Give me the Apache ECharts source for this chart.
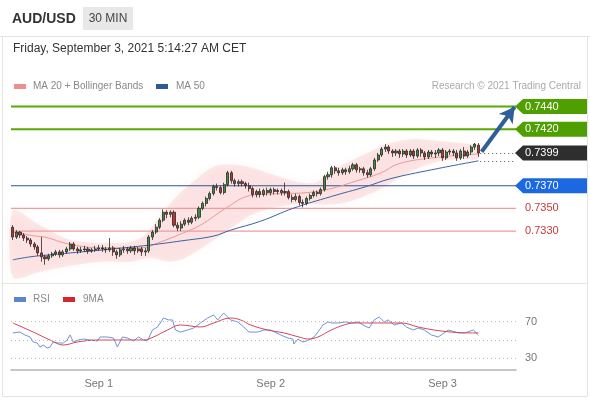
<!DOCTYPE html>
<html><head><meta charset="utf-8">
<script src="https://cdn.jsdelivr.net/npm/echarts@6/dist/echarts.min.js"></script>
<style>html,body{margin:0;padding:0;background:#fff}#c{width:590px;height:400px}</style>
</head><body><div id="c"></div>
<script>
// ---- data (AUD/USD, 30 min bars from Aug 31 12:00) ----
const opens = [
.73334,.73247,.73291,.73265,.73238,.73221,.73186,.73160,.73107,.73072,
.73055,.73081,.73099,.73116,.73090,.73116,.73142,.73186,.73142,.73125,
.73134,.73142,.73125,.73134,.73142,.73151,.73142,.73134,.73151,.73116,
.73090,.73134,.73142,.73125,.73151,.73125,.73142,.73116,.73125,.73247,
.73291,.73334,.73396,.73466,.73448,.73466,.73352,.73326,.73361,.73396,
.73378,.73413,.73422,.73500,.73544,.73588,.73631,.73693,.73684,.73640,
.73710,.73815,.73745,.73719,.73736,.73719,.73701,.73675,.73623,.73649,
.73623,.73658,.73640,.73666,.73649,.73658,.73640,.73649,.73597,.73579,
.73605,.73553,.73544,.73588,.73614,.73640,.73631,.73666,.73780,.73797,
.73859,.73832,.73815,.73841,.73824,.73850,.73885,.73841,.73850,.73815,
.73797,.73850,.73928,.73972,.74024,.74042,.74007,.73990,.74007,.73981,
.74007,.73972,.74007,.73963,.74016,.73990,.73955,.73998,.73981,.73990,
.74016,.73946,.73998,.74007,.73990,.73946,.74007,.73963,.73998,.74042,
.74059];
const closes = [
.73247,.73291,.73265,.73238,.73221,.73186,.73160,.73107,.73072,.73055,
.73081,.73099,.73116,.73090,.73116,.73142,.73186,.73142,.73125,.73134,
.73142,.73125,.73134,.73142,.73151,.73142,.73134,.73151,.73116,.73090,
.73134,.73142,.73125,.73151,.73125,.73142,.73116,.73125,.73247,.73291,
.73334,.73396,.73466,.73448,.73466,.73352,.73326,.73361,.73396,.73378,
.73413,.73422,.73500,.73544,.73588,.73631,.73693,.73684,.73640,.73710,
.73815,.73745,.73719,.73736,.73719,.73701,.73675,.73623,.73649,.73623,
.73658,.73640,.73666,.73649,.73658,.73640,.73649,.73597,.73579,.73605,
.73553,.73544,.73588,.73614,.73640,.73631,.73666,.73780,.73797,.73859,
.73832,.73815,.73841,.73824,.73850,.73885,.73841,.73850,.73815,.73797,
.73850,.73928,.73972,.74024,.74042,.74007,.73990,.74007,.73981,.74007,
.73972,.74007,.73963,.74016,.73990,.73955,.73998,.73981,.73990,.74016,
.73946,.73998,.74007,.73990,.73946,.74007,.73963,.73998,.74042,.74068,
.73990];
const highs = [
.73352,.73308,.73300,.73282,.73256,.73238,.73203,.73177,.73247,.73090,
.73099,.73116,.73134,.73134,.73134,.73160,.73203,.73203,.73160,.73160,
.73169,.73160,.73151,.73169,.73177,.73177,.73160,.73238,.73169,.73134,
.73151,.73169,.73160,.73169,.73169,.73160,.73160,.73151,.73265,.73308,
.73361,.73413,.73492,.73483,.73483,.73483,.73378,.73387,.73413,.73422,
.73431,.73448,.73518,.73561,.73605,.73649,.73710,.73719,.73701,.73728,
.73832,.73832,.73762,.73754,.73754,.73736,.73728,.73693,.73666,.73675,
.73675,.73684,.73684,.73684,.73675,.73675,.73728,.73666,.73623,.73631,
.73623,.73579,.73605,.73631,.73658,.73658,.73684,.73797,.73824,.73876,
.73876,.73859,.73859,.73859,.73876,.73902,.73902,.73867,.73867,.73841,
.73867,.73946,.73990,.74042,.74068,.74059,.74024,.74024,.74024,.74024,
.74024,.74024,.74024,.74033,.74033,.74007,.74016,.74016,.74016,.74033,
.74033,.74016,.74024,.74024,.74016,.74024,.74042,.74016,.74059,.74077,
.74077];
const lows = [
.73221,.73230,.73238,.73212,.73195,.73160,.73134,.73081,.73029,.73003,
.73037,.73064,.73081,.73064,.73072,.73099,.73125,.73125,.73099,.73107,
.73116,.73099,.73107,.73116,.73125,.73116,.73107,.73116,.73081,.73055,
.73072,.73107,.73099,.73107,.73090,.73107,.73081,.73081,.73107,.73221,
.73273,.73317,.73378,.73413,.73422,.73334,.73300,.73300,.73343,.73352,
.73361,.73387,.73404,.73483,.73518,.73570,.73614,.73658,.73623,.73623,
.73693,.73719,.73693,.73693,.73693,.73675,.73649,.73597,.73597,.73597,
.73605,.73614,.73614,.73623,.73623,.73614,.73614,.73579,.73553,.73561,
.73527,.73509,.73527,.73570,.73597,.73605,.73614,.73649,.73754,.73771,
.73806,.73789,.73797,.73797,.73806,.73832,.73815,.73815,.73789,.73771,
.73780,.73832,.73911,.73955,.73998,.73981,.73955,.73963,.73946,.73955,
.73946,.73955,.73937,.73946,.73955,.73928,.73937,.73955,.73946,.73963,
.73920,.73928,.73972,.73963,.73920,.73928,.73937,.73946,.73972,.74016,
.73955];

// indicator readings: [bar index, value]
const ma20 = [[0,.73291],[6.2,.73256],[9,.73247],[15.5,.73186],[24.4,.73151],[35.6,.73151],[41.2,.73203],[46.8,.73273],[52.4,.73352],[59.4,.73500],[66.4,.73614],[74.8,.73631],[82.4,.73640],[88.9,.73675],[94.5,.73728],[102.9,.73815],[107.6,.73893],[116.9,.73946],[130,.73981]];
const ma50 = [[0,.73046],[4.8,.73072],[10.4,.73090],[25.3,.73134],[38.4,.73177],[46.8,.73212],[56.1,.73256],[60.8,.73308],[69.2,.73387],[78.2,.73500],[88.9,.73605],[98.7,.73693],[105.4,.73762],[116.9,.73841],[130,.73920]];
const bbUpper = [[0,.73483],[7.6,.73352],[16,.73221],[24.4,.73195],[32.8,.73203],[37,.73265],[41.2,.73439],[46.8,.73640],[52.4,.73789],[56.6,.73876],[62.2,.73885],[67.8,.73850],[73.4,.73789],[80.5,.73728],[84.7,.73728],[88.9,.73832],[94.5,.73920],[100.1,.74007],[104.3,.74068],[111.3,.74112],[119.7,.74094],[128.1,.74068],[130,.74051]];
const bbLower = [[0,.72889],[7.6,.72941],[16,.72994],[24.4,.73029],[32.8,.73029],[38.4,.73064],[44,.73029],[48.2,.73064],[56.1,.73221],[62.2,.73352],[66.4,.73439],[72,.73500],[80.5,.73544],[86,.73535],[91.7,.73544],[97.3,.73597],[102.9,.73675],[108.5,.73780],[114.1,.73867],[119.7,.73920],[125.3,.73937],[130,.73937]];
const rsi = [[0,57.7],[2,58.7],[3.4,55.5],[4.8,53.3],[5.7,47.8],[6.8,46.7],[7.6,42.3],[8.5,44.5],[9.6,41.2],[10.4,42.3],[11.3,47.8],[12.7,46.7],[14.1,46.7],[15.2,50],[16,55.5],[16.9,47.8],[18.3,50],[19.7,51.1],[21.6,50],[23.6,48.9],[24.4,53.3],[26.4,53.3],[28.1,52.2],[29.2,42.3],[30.6,53.3],[32,52.2],[33.7,48.9],[35.1,53.3],[36.5,50],[37.6,48.9],[39,60.9],[40.4,64.2],[42.1,74],[43.5,71.9],[44.6,71.9],[45.4,60.9],[46.8,58.7],[48.8,60.9],[50.5,63.1],[52.4,68.6],[54.4,74],[56.1,77.3],[57.2,71.9],[58.9,79.5],[60.8,71.9],[62.8,69.7],[64.5,64.2],[65.9,58.7],[68.4,58.7],[70.1,60.9],[72,60.9],[74.8,55.5],[76.8,52.2],[78.2,51.1],[78.5,45.6],[79.6,51],[81,47.8],[82.7,50],[84.1,53.3],[85.2,58.7],[86.6,66.4],[88,69.7],[88.9,68.6],[90.8,68.6],[93.1,69.7],[94.5,68.6],[96.4,69.7],[97.8,66.4],[99.5,63.1],[100.9,71.9],[102.3,75.1],[103.7,69.7],[104.8,71.9],[106.5,66.4],[108.5,68.6],[109.9,64.2],[111.8,60.9],[113.2,63.1],[114.9,60.9],[116.9,55.5],[118.8,53.3],[121.6,60.9],[124.4,57.7],[126.1,57.7],[128.6,60.9],[130,55.5]];
const rsiMa = [[0,68.6],[5.7,58.7],[10.4,50],[14.1,44.5],[18,47.8],[23.6,50],[29.2,50],[36.5,50],[39.3,53.3],[43.2,60.9],[46.8,66.4],[52.4,64.2],[56.1,68.6],[60.8,74],[63.6,71.9],[66.4,66.4],[71.2,60.9],[75.7,57.7],[79.9,53.3],[82.4,51.1],[85.2,53.3],[88.9,60.9],[92.5,66.4],[95.3,68.6],[99.2,68.6],[103.7,68.6],[108.5,68.6],[113.2,64.2],[117.7,60.9],[122.5,58.7],[128.1,57.7],[130,57.7]];

const resistances = [0.7440, 0.7420];
const pivot = [0.7370];
const supports = [0.7350, 0.7330];
const rsiLevels = [70, 50, 30];
const tickLabels = ['Sep 1', 'Sep 2', 'Sep 3'];
const tickIndex = [24, 72, 120];
const totalSlots = 141;

const categories = [];
const t0 = Date.UTC(2021, 7, 31, 12, 0);
for (let k = 0; k < totalSlots; k++) {
  const d = new Date(t0 + k * 1800000);
  categories.push(d.toISOString().slice(5, 16).replace('T', ' '));
}

// ---- chart ----
const FONT = '"Liberation Sans", Arial, sans-serif';
const lastClose = closes[closes.length - 1];
const lastMa50 = ma50[ma50.length - 1][1];
const nBars = closes.length;
const xL = -0.5, xR = totalSlots - 0.5;

const levels = [];
resistances.forEach(p => levels.push([0, p, 0]));
levels.push([0, lastClose, 1]);
pivot.forEach(p => levels.push([0, p, 2]));
supports.forEach(p => levels.push([0, p, 3]));
const boxColors = ['#4f9f00', '#2e2e2e', '#1b68e0'];
const lineStyles = [
  {color: '#5aa800', width: 2},
  null,
  {color: '#2d5596', width: 1.2},
  {color: '#ee9c9c', width: 1.2}
];

const chart = echarts.init(document.getElementById('c'), null, {renderer: 'canvas'});
chart.setOption({
  animation: false,
  backgroundColor: '#fff',
  textStyle: {fontFamily: FONT},
  grid: [
    {left: 11, width: 505, top: 95.2, height: 183.4},
    {left: 11, width: 505, top: 310.7, height: 58.6}
  ],
  xAxis: [
    {type: 'category', gridIndex: 0, data: categories, boundaryGap: true, show: false},
    {type: 'value', gridIndex: 0, min: xL, max: xR, show: false},
    {type: 'category', gridIndex: 1, data: categories, boundaryGap: true,
      axisLine: {lineStyle: {color: '#b5b5b5', width: 1.5}},
      axisTick: {show: false}, splitLine: {show: false},
      axisLabel: {
        interval: (i) => tickIndex.indexOf(i) >= 0,
        formatter: (v, i) => { const k = tickIndex.indexOf(i); return k >= 0 ? tickLabels[k] : ''; },
        color: '#777', fontSize: 11, margin: 9, fontFamily: FONT
      }},
    {type: 'value', gridIndex: 1, min: xL, max: xR, show: false}
  ],
  yAxis: [
    {type: 'value', gridIndex: 0, min: 0.7288, max: 0.7450, show: false, splitLine: {show: false}},
    {type: 'value', gridIndex: 1, min: 18, max: 82, show: false, splitLine: {show: false}}
  ],
  graphic: [
    {type: 'line', shape: {x1: 0, y1: 36.5, x2: 590, y2: 36.5}, style: {stroke: '#e4e4e4', lineWidth: 1}, silent: true},
    {type: 'rect', shape: {x: 2.5, y: 36.5, width: 585, height: 360}, style: {fill: 'none', stroke: '#e4e4e4', lineWidth: 1}, silent: true},
    {type: 'line', shape: {x1: 2, y1: 283.5, x2: 588, y2: 283.5}, style: {stroke: '#e4e4e4', lineWidth: 1}, silent: true},
    {type: 'text', style: {text: 'AUD/USD', x: 12, y: 19, font: 'bold 14px ' + FONT, fill: '#333', textVerticalAlign: 'middle'}},
    {type: 'rect', shape: {x: 83, y: 7, width: 50, height: 23}, style: {fill: '#e8e8e8'}},
    {type: 'text', style: {text: '30 MIN', x: 108, y: 19, font: '12px ' + FONT, fill: '#444', textAlign: 'center', textVerticalAlign: 'middle'}},
    {type: 'text', style: {text: 'Friday, September 3, 2021 5:14:27 AM CET', x: 13, y: 49, font: '12px ' + FONT, fill: '#333', textVerticalAlign: 'middle'}},
    {type: 'rect', shape: {x: 14, y: 84, width: 12, height: 5}, style: {fill: '#ee8f8f'}},
    {type: 'text', style: {text: 'MA 20 + Bollinger Bands', x: 33, y: 86.5, font: '10px ' + FONT, fill: '#888', textVerticalAlign: 'middle'}},
    {type: 'rect', shape: {x: 156, y: 84, width: 12, height: 5}, style: {fill: '#2f5a95'}},
    {type: 'text', style: {text: 'MA 50', x: 176, y: 86.5, font: '10px ' + FONT, fill: '#888', textVerticalAlign: 'middle'}},
    {type: 'text', style: {text: 'Research \u00a9 2021 Trading Central', x: 581, y: 86, font: '10px ' + FONT, fill: '#aaa', textAlign: 'right', textVerticalAlign: 'middle'}},
    {type: 'rect', shape: {x: 14, y: 297, width: 12, height: 5}, style: {fill: '#5b86cc'}},
    {type: 'text', style: {text: 'RSI', x: 33, y: 299.5, font: '10px ' + FONT, fill: '#888', textVerticalAlign: 'middle'}},
    {type: 'rect', shape: {x: 63, y: 297, width: 12, height: 5}, style: {fill: '#d6262e'}},
    {type: 'text', style: {text: '9MA', x: 83, y: 299.5, font: '10px ' + FONT, fill: '#888', textVerticalAlign: 'middle'}}
  ],
  series: [
    {
      name: 'BB', type: 'custom', xAxisIndex: 1, yAxisIndex: 0, z: 1, silent: true,
      data: [[0, 0.735]],
      renderItem: function (params, api) {
        const pts = bbUpper.map(d => api.coord(d));
        for (let k = bbLower.length - 1; k >= 0; k--) pts.push(api.coord(bbLower[k]));
        return {type: 'polygon', shape: {points: pts, smooth: 0.25},
          style: {fill: 'rgba(243,150,150,0.2)', shadowBlur: 10, shadowColor: 'rgba(243,150,150,0.45)'}};
      }
    },
    {
      // horizontal level lines, drawn through the value axes
      name: 'levelLines', type: 'custom', xAxisIndex: 1, yAxisIndex: 0, z: 2, silent: true,
      data: [[0, 0.735]],
      renderItem: function (params, api) {
        const children = levels.filter(d => d[2] !== 1).map(d => {
          const s = lineStyles[d[2]];
          const a = api.coord([xL, d[1]]), b = api.coord([xR, d[1]]);
          return {type: 'line', shape: {x1: a[0], y1: a[1], x2: b[0], y2: b[1]},
            style: {stroke: s.color, lineWidth: s.width}};
        });
        return {type: 'group', children: children};
      }
    },
    {
      name: 'MA 20', type: 'line', xAxisIndex: 1, yAxisIndex: 0, data: ma20, smooth: 0.4,
      showSymbol: false, symbol: 'none', z: 3, lineStyle: {color: '#e89a9a', width: 1}
    },
    {
      name: 'MA 50', type: 'line', xAxisIndex: 1, yAxisIndex: 0, data: ma50, smooth: 0.4,
      showSymbol: false, symbol: 'none', z: 3, lineStyle: {color: '#3a62a0', width: 1},
      markLine: {
        silent: true, symbol: 'none', label: {show: false}, animation: false,
        data: [
          [{coord: [nBars - 0.5, lastClose]}, {coord: [xR, lastClose]}],
          [{coord: [nBars - 0.5, lastMa50]}, {coord: [xR, lastMa50]}]
        ],
        lineStyle: {color: '#555', type: [1, 3], width: 1}
      }
    },
    {
      name: 'AUD/USD', type: 'candlestick', xAxisIndex: 0, yAxisIndex: 0, z: 5,
      barWidth: 2.6,
      data: opens.map((o, i) => [o, closes[i], lows[i], highs[i]]),
      itemStyle: {color: '#3d8f3d', color0: '#c1322d', borderColor: '#2a2a2a', borderColor0: '#2a2a2a', borderWidth: 0.8}
    },
    {
      name: 'arrow', type: 'line', xAxisIndex: 1, yAxisIndex: 0, data: [[nBars - 0.5, lastClose]],
      symbol: 'none', lineStyle: {width: 0}, z: 8,
      markLine: {
        silent: true, animation: false, symbol: ['none', 'arrow'], symbolSize: [13, 15],
        label: {show: false},
        lineStyle: {color: '#2e5f9a', width: 4, type: 'solid'},
        data: [[{coord: [nBars - 0.1, lastClose + 0.0001]}, {coord: [totalSlots - 0.9, resistances[0] - 0.00004]}]]
      }
    },
    {
      name: 'levels', type: 'custom', xAxisIndex: 1, yAxisIndex: 0, z: 10, clip: false, silent: true,
      data: levels,
      renderItem: function (params, api) {
        const price = api.value(1), kind = api.value(2);
        const y = api.coord([0, price])[1];
        const x0 = params.coordSys.x + params.coordSys.width - 1;
        const txt = price.toFixed(4);
        if (kind === 3) {
          return {type: 'text', style: {text: txt, x: x0 + 10, y: y, font: '11px ' + FONT, fill: '#c73a3a', textVerticalAlign: 'middle'}};
        }
        return {type: 'group', children: [
          {type: 'polygon', shape: {points: [[x0, y], [x0 + 8, y - 7.5], [x0 + 72, y - 7.5], [x0 + 72, y + 7.5], [x0 + 8, y + 7.5]]},
            style: {fill: boxColors[kind]}},
          {type: 'text', style: {text: txt, x: x0 + 10, y: y, font: '11px ' + FONT, fill: '#fff', textVerticalAlign: 'middle'}}
        ]};
      }
    },
    {
      name: 'RSI', type: 'line', xAxisIndex: 3, yAxisIndex: 1, data: rsi, symbol: 'none', showSymbol: false,
      lineStyle: {color: '#6f95d4', width: 1}, z: 3,
      markLine: {
        silent: true, symbol: 'none', animation: false,
        lineStyle: {color: '#bdbdbd', type: [1, 3], width: 1},
        label: {position: 'end', color: '#777', fontSize: 11, distance: 9, fontFamily: FONT},
        data: rsiLevels.map(v => ({yAxis: v, label: {show: v !== 50, formatter: String(v)}}))
      }
    },
    {
      name: '9MA', type: 'line', xAxisIndex: 3, yAxisIndex: 1, data: rsiMa, symbol: 'none', showSymbol: false,
      smooth: 0.4, lineStyle: {color: '#d4455a', width: 1}, z: 4
    }
  ]
});
</script></body></html>
